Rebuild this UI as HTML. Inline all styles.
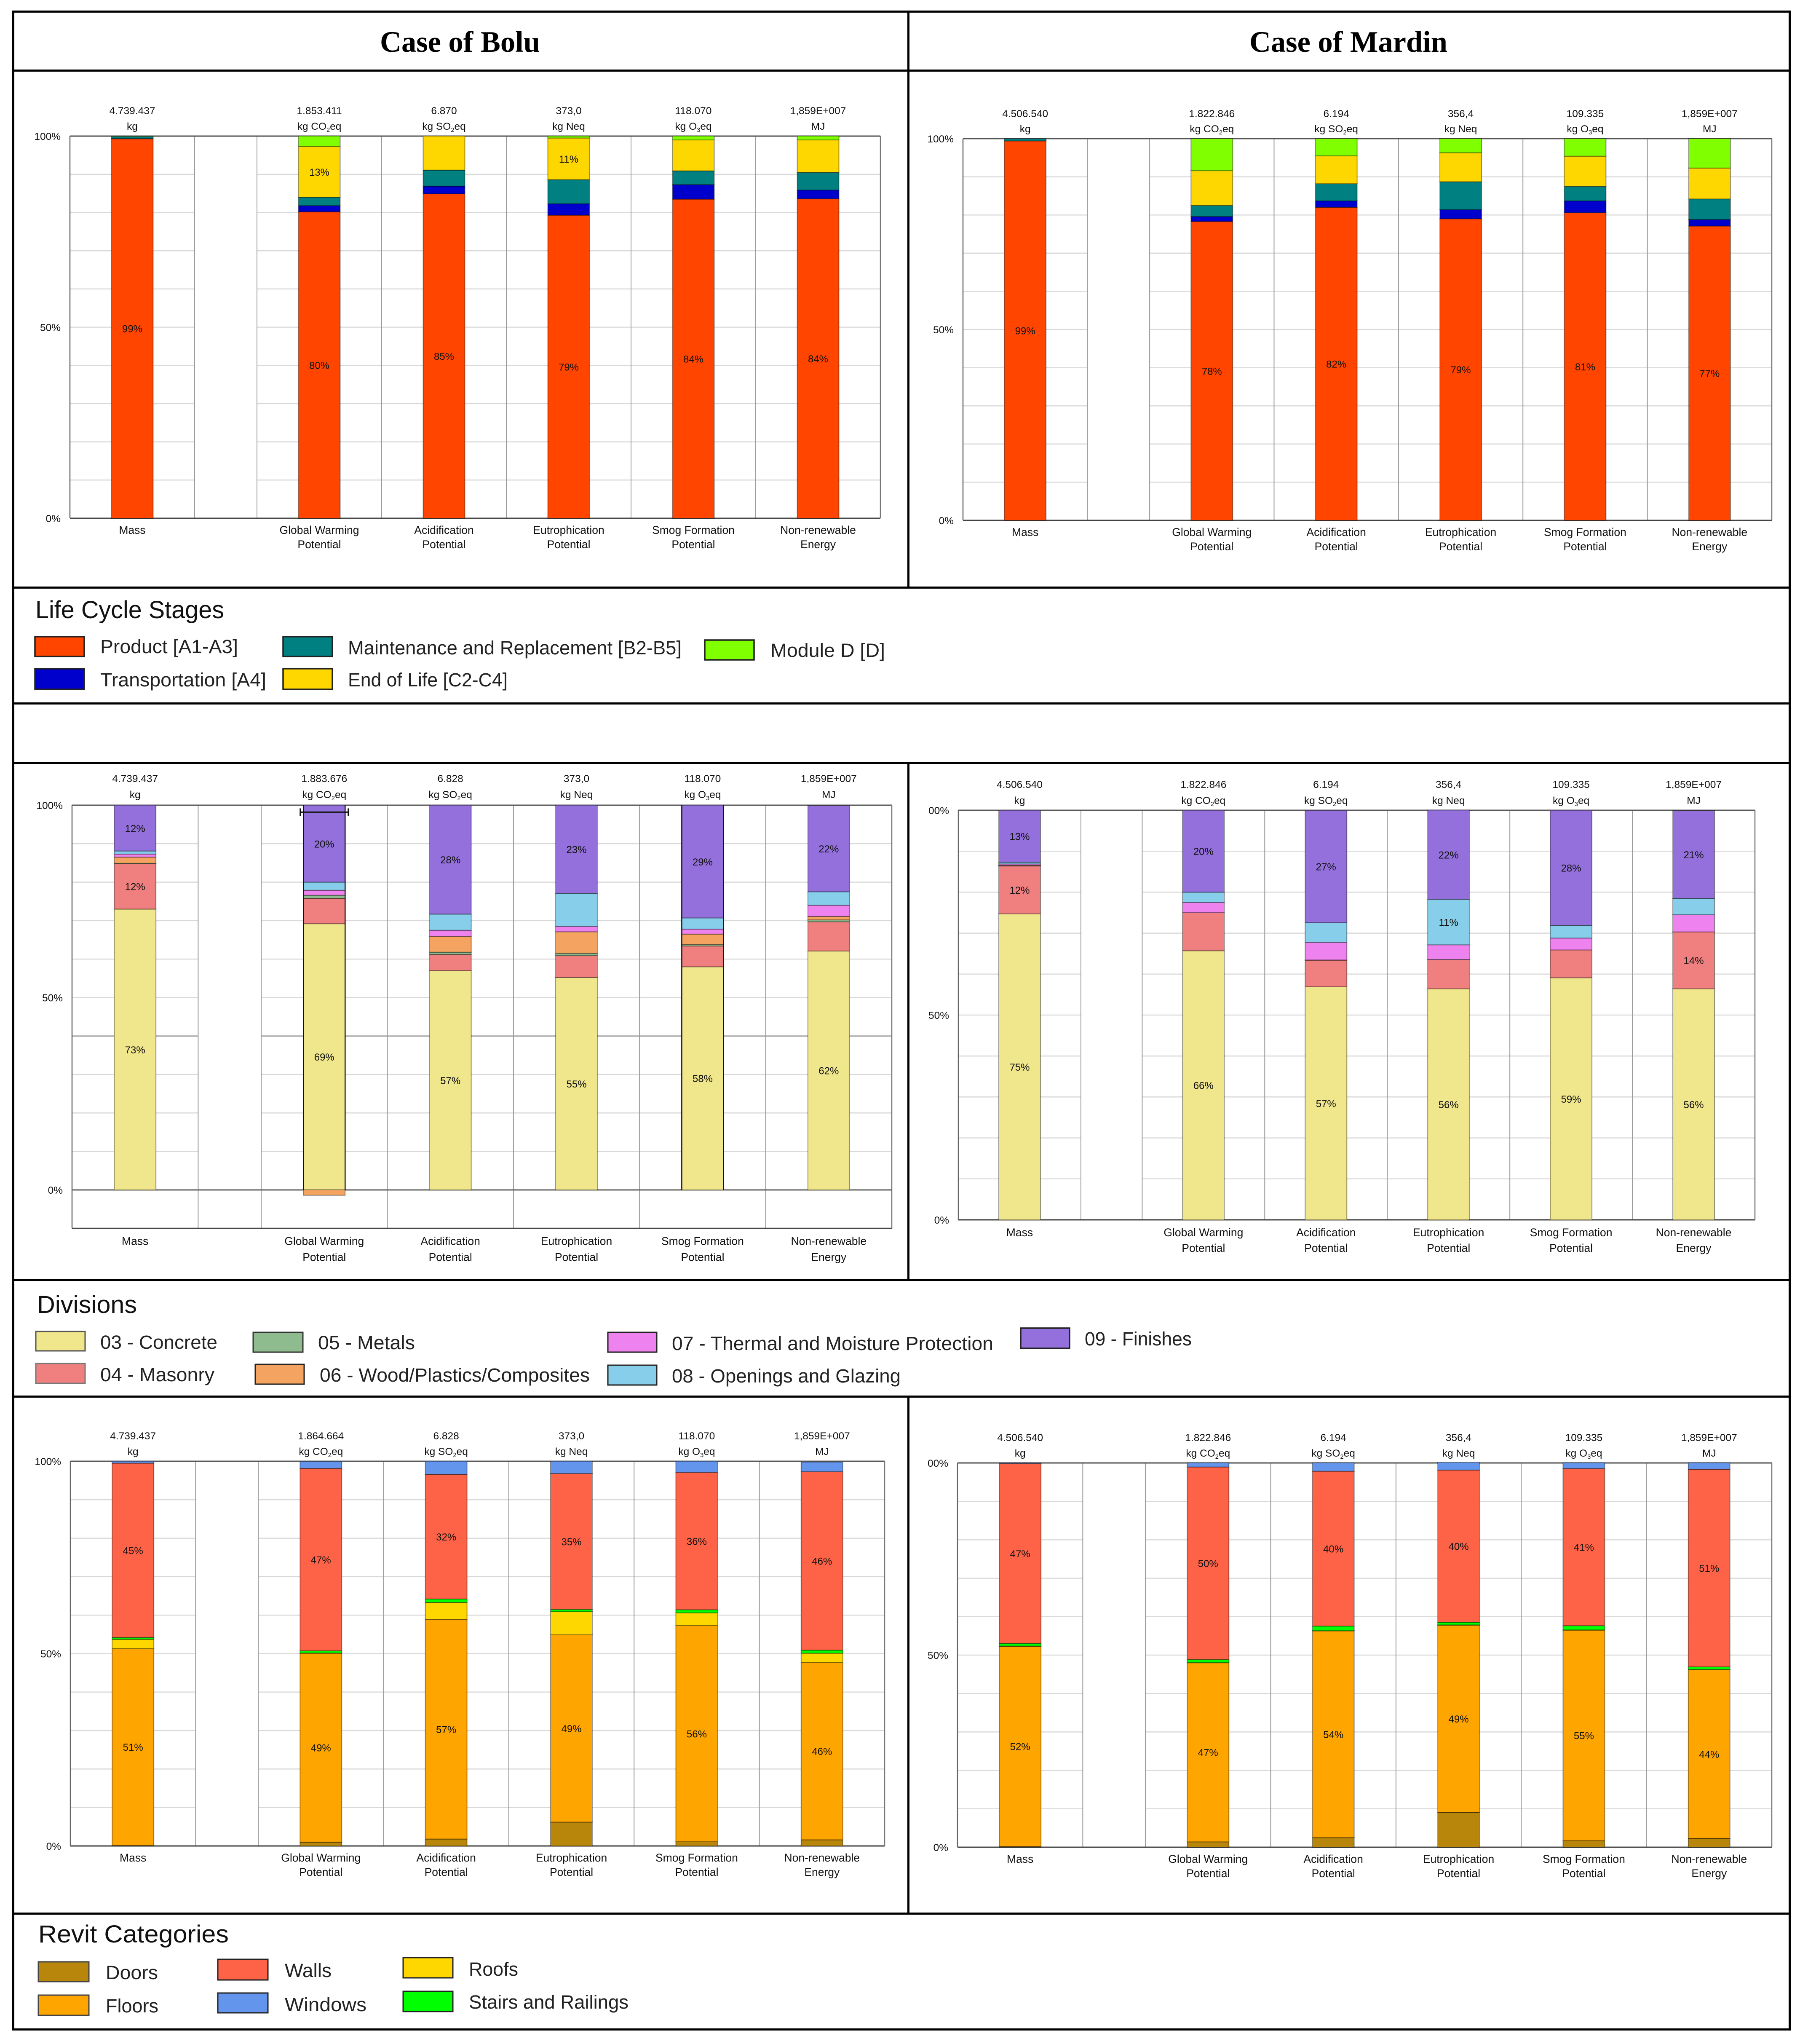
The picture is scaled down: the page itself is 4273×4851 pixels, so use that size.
<!DOCTYPE html>
<html lang="en">
<head>
<meta charset="utf-8">
<title>Life cycle assessment charts: Bolu and Mardin</title>
<style>
html,body{margin:0;padding:0;background:#fff;}
svg{display:block;}
text{font-family:"Liberation Sans",sans-serif;fill:#111;}
.head{font-family:"Liberation Serif",serif;font-weight:bold;font-size:70.5px;fill:#000;text-anchor:middle;}
.ltitle{font-size:58px;fill:#111;}
.ltext{font-size:45.5px;fill:#222;}
</style>
</head>
<body>
<svg xmlns="http://www.w3.org/2000/svg" width="4273" height="4851" viewBox="0 0 4273 4851">
<rect x="0" y="0" width="4273" height="4851" fill="#fff"/>

<g id="chart-bolu-stages"></g>
<g id="chart-mardin-stages"></g>
<g id="chart-bolu-divisions"></g>
<g id="chart-mardin-divisions"></g>
<g id="chart-bolu-categories"></g>
<g id="chart-mardin-categories"></g>

<g fill="#000">
<rect x="29" y="25" width="4222" height="5"/>
<rect x="29" y="165" width="4222" height="5"/>
<rect x="29" y="1392" width="4222" height="5"/>
<rect x="29" y="1667" width="4222" height="5"/>
<rect x="29" y="1808" width="4222" height="5"/>
<rect x="29" y="3035" width="4222" height="5"/>
<rect x="29" y="3312" width="4222" height="5"/>
<rect x="29" y="4539" width="4222" height="5"/>
<rect x="29" y="4814" width="4222" height="5"/>
<rect x="29" y="25" width="5" height="4794"/>
<rect x="4246" y="25" width="5" height="4794"/>
<rect x="2154" y="25" width="5" height="1372"/>
<rect x="2154" y="1808" width="5" height="1232"/>
<rect x="2154" y="3312" width="5" height="1232"/>
</g>

<text class="head" x="1092" y="123">Case of Bolu</text>
<text class="head" x="3201" y="123">Case of Mardin</text>

<g stroke-width="3">
<text class="ltitle" x="84" y="1467" textLength="448" lengthAdjust="spacingAndGlyphs">Life Cycle Stages</text>
<g><rect x="83" y="1511" width="117" height="47" fill="#ff4500" stroke="#222" stroke-width="3.5"/><text class="ltext" x="238" y="1550" textLength="327" lengthAdjust="spacingAndGlyphs">Product [A1-A3]</text></g>
<g><rect x="672" y="1511" width="117" height="47" fill="#008080" stroke="#222" stroke-width="3.5"/><text class="ltext" x="826" y="1553" textLength="792" lengthAdjust="spacingAndGlyphs">Maintenance and Replacement [B2-B5]</text></g>
<g><rect x="1673" y="1519" width="117" height="47" fill="#7fff00" stroke="#222" stroke-width="3.5"/><text class="ltext" x="1829" y="1559" textLength="272" lengthAdjust="spacingAndGlyphs">Module D [D]</text></g>
<g><rect x="83" y="1587" width="117" height="49" fill="#0000cd" stroke="#222" stroke-width="3.5"/><text class="ltext" x="238" y="1629" textLength="394" lengthAdjust="spacingAndGlyphs">Transportation [A4]</text></g>
<g><rect x="672" y="1587" width="117" height="49" fill="#ffd700" stroke="#222" stroke-width="3.5"/><text class="ltext" x="826" y="1629" textLength="379" lengthAdjust="spacingAndGlyphs">End of Life [C2-C4]</text></g>
</g>

<g>
<text class="ltitle" x="88" y="3116" textLength="237" lengthAdjust="spacingAndGlyphs">Divisions</text>
<g><rect x="85" y="3160" width="117" height="46" fill="#f0e68c" stroke="#555" stroke-width="3"/><text class="ltext" x="238" y="3201" textLength="278" lengthAdjust="spacingAndGlyphs">03 - Concrete</text></g>
<g><rect x="601" y="3162" width="118" height="47" fill="#8fbc8f" stroke="#333" stroke-width="3"/><text class="ltext" x="755" y="3202" textLength="230" lengthAdjust="spacingAndGlyphs">05 - Metals</text></g>
<g><rect x="1443" y="3162" width="116" height="47" fill="#ee82ee" stroke="#222" stroke-width="3"/><text class="ltext" x="1595" y="3204" textLength="763" lengthAdjust="spacingAndGlyphs">07 - Thermal and Moisture Protection</text></g>
<g><rect x="85" y="3236" width="117" height="47" fill="#f08080" stroke="#777" stroke-width="3"/><text class="ltext" x="238" y="3278" textLength="271" lengthAdjust="spacingAndGlyphs">04 - Masonry</text></g>
<g><rect x="606" y="3238" width="116" height="47" fill="#f4a460" stroke="#222" stroke-width="3"/><text class="ltext" x="759" y="3279" textLength="641" lengthAdjust="spacingAndGlyphs">06 - Wood/Plastics/Composites</text></g>
<g><rect x="1443" y="3240" width="116" height="47" fill="#87ceeb" stroke="#222" stroke-width="3"/><text class="ltext" x="1595" y="3281" textLength="543" lengthAdjust="spacingAndGlyphs">08 - Openings and Glazing</text></g>
<g><rect x="2423" y="3152" width="116" height="48" fill="#9370db" stroke="#222" stroke-width="3.5"/><text class="ltext" x="2575" y="3193" textLength="254" lengthAdjust="spacingAndGlyphs">09 - Finishes</text></g>
</g>

<g>
<text class="ltitle" x="91" y="4610" textLength="452" lengthAdjust="spacingAndGlyphs">Revit Categories</text>
<g><rect x="91" y="4656" width="120" height="47" fill="#b8860b" stroke="#444" stroke-width="3"/><text class="ltext" x="251" y="4697" textLength="124" lengthAdjust="spacingAndGlyphs">Doors</text></g>
<g><rect x="91" y="4735" width="120" height="48" fill="#ffa500" stroke="#444" stroke-width="3"/><text class="ltext" x="251" y="4776" textLength="125" lengthAdjust="spacingAndGlyphs">Floors</text></g>
<g><rect x="517" y="4650" width="119" height="49" fill="#ff6347" stroke="#222" stroke-width="3"/><text class="ltext" x="676" y="4692" textLength="111" lengthAdjust="spacingAndGlyphs">Walls</text></g>
<g><rect x="517" y="4730" width="119" height="47" fill="#6495ed" stroke="#222" stroke-width="3"/><text class="ltext" x="676" y="4773" textLength="194" lengthAdjust="spacingAndGlyphs">Windows</text></g>
<g><rect x="957" y="4646" width="118" height="48" fill="#ffd700" stroke="#222" stroke-width="3"/><text class="ltext" x="1113" y="4689" textLength="117" lengthAdjust="spacingAndGlyphs">Roofs</text></g>
<g><rect x="957" y="4726" width="118" height="48" fill="#00ff00" stroke="#222" stroke-width="3"/><text class="ltext" x="1113" y="4767" textLength="379" lengthAdjust="spacingAndGlyphs">Stairs and Railings</text></g>
</g>
</svg>

<script>
// Shared labels
const categoryLine1 = ['Mass', 'Global Warming', 'Acidification', 'Eutrophication', 'Smog Formation', 'Non-renewable'];
const categoryLine2 = ['', 'Potential', 'Potential', 'Potential', 'Potential', 'Energy'];
const unitLabels = ['kg', 'kg CO2eq', 'kg SO2eq', 'kg Neq', 'kg O3eq', 'MJ'];
const tickValues = [100, 50, 0];
const tickLabelsFull = ['100%', '50%', '0%'];
const tickLabelsClipped = ['00%', '50%', '0%'];

// Printed totals above the bars
const totalsBoluStages = ['4.739.437', '1.853.411', '6.870', '373,0', '118.070', '1,859E+007'];
const totalsMardinStages = ['4.506.540', '1.822.846', '6.194', '356,4', '109.335', '1,859E+007'];
const totalsBoluDivisions = ['4.739.437', '1.883.676', '6.828', '373,0', '118.070', '1,859E+007'];
const totalsMardinDivisions = ['4.506.540', '1.822.846', '6.194', '356,4', '109.335', '1,859E+007'];
const totalsBoluCategories = ['4.739.437', '1.864.664', '6.828', '373,0', '118.070', '1,859E+007'];
const totalsMardinCategories = ['4.506.540', '1.822.846', '6.194', '356,4', '109.335', '1,859E+007'];

// Bolu - life cycle stages (percent)
const boluStageProduct = [99.3, 80.2, 84.9, 79.3, 83.5, 83.6];
const boluStageTransport = [0.05, 1.6, 2.0, 3.0, 3.8, 2.3];
const boluStageMaintenance = [0.6, 2.2, 4.2, 6.3, 3.6, 4.6];
const boluStageEndOfLife = [0.05, 13.3, 8.9, 10.9, 8.1, 8.5];
const boluStageModuleD = [0, 2.7, 0, 0.5, 1.0, 1.0];

// Mardin - life cycle stages (percent)
const mardinStageProduct = [99.4, 78.3, 82.0, 79.0, 80.6, 77.1];
const mardinStageTransport = [0, 1.3, 1.7, 2.4, 3.1, 1.7];
const mardinStageMaintenance = [0.6, 2.9, 4.5, 7.3, 3.8, 5.4];
const mardinStageEndOfLife = [0, 9.1, 7.3, 7.6, 7.9, 8.1];
const mardinStageModuleD = [0, 8.4, 4.5, 3.7, 4.6, 7.7];

// Bolu - divisions (percent)
const boluDivConcrete = [73.0, 69.2, 57.0, 55.2, 58.0, 62.1];
const boluDivMasonry = [11.8, 6.6, 4.2, 5.7, 5.4, 7.6];
const boluDivMetals = [0.1, 0.8, 0.6, 0.6, 0.4, 0.5];
const boluDivWood = [1.6, -1.4, 4.1, 5.6, 2.7, 0.9];
const boluDivThermal = [0.8, 1.3, 1.6, 1.4, 1.3, 2.9];
const boluDivOpenings = [0.8, 2.1, 4.2, 8.6, 2.9, 3.5];
const boluDivFinishes = [11.9, 20.0, 28.3, 22.9, 29.3, 22.4];

// Mardin - divisions (percent)
const mardinDivConcrete = [74.7, 65.7, 56.9, 56.4, 59.1, 56.4];
const mardinDivMasonry = [11.7, 9.3, 6.5, 7.1, 6.8, 13.9];
const mardinDivMetals = [0.1, 0, 0.05, 0.05, 0, 0];
const mardinDivWood = [0.1, 0, 0, 0, 0, 0];
const mardinDivThermal = [0.3, 2.5, 4.3, 3.6, 2.9, 4.2];
const mardinDivOpenings = [0.4, 2.5, 4.8, 11.1, 3.1, 4.0];
const mardinDivFinishes = [12.7, 20.0, 27.4, 21.8, 28.1, 21.4];

// Bolu - Revit categories (percent)
const boluCatDoors = [0.2, 1.0, 1.8, 6.2, 1.1, 1.6];
const boluCatFloors = [51.1, 49.1, 57.1, 48.7, 56.2, 46.1];
const boluCatRoofs = [2.4, 0.05, 4.4, 6.0, 3.3, 2.4];
const boluCatStairs = [0.5, 0.6, 0.9, 0.6, 0.8, 0.8];
const boluCatWalls = [45.3, 47.4, 32.4, 35.3, 35.7, 46.4];
const boluCatWindows = [0.5, 1.8, 3.4, 3.2, 2.9, 2.5];

// Mardin - Revit categories (percent)
const mardinCatDoors = [0.2, 1.4, 2.5, 9.1, 1.7, 2.3];
const mardinCatFloors = [52.1, 46.6, 53.8, 48.7, 54.8, 43.9];
const mardinCatRoofs = [0.05, 0.05, 0.05, 0.05, 0.05, 0.05];
const mardinCatStairs = [0.7, 0.8, 1.2, 0.7, 1.1, 0.7];
const mardinCatWalls = [46.8, 50.1, 40.3, 39.6, 40.9, 51.4];
const mardinCatWindows = [0.2, 1.1, 2.2, 2.0, 1.5, 1.7];

// Colours
const stageColors = ['#ff4500', '#0000cd', '#008080', '#ffd700', '#7fff00'];
const divisionColors = ['#f0e68c', '#f08080', '#8fbc8f', '#f4a460', '#ee82ee', '#87ceeb', '#9370db'];
const categoryColors = ['#b8860b', '#ffa500', '#ffd700', '#00ff00', '#ff6347', '#6495ed'];

const stageSeriesBolu = [boluStageProduct, boluStageTransport, boluStageMaintenance, boluStageEndOfLife, boluStageModuleD];
const stageSeriesMardin = [mardinStageProduct, mardinStageTransport, mardinStageMaintenance, mardinStageEndOfLife, mardinStageModuleD];
const divisionSeriesBolu = [boluDivConcrete, boluDivMasonry, boluDivMetals, boluDivWood, boluDivThermal, boluDivOpenings, boluDivFinishes];
const divisionSeriesMardin = [mardinDivConcrete, mardinDivMasonry, mardinDivMetals, mardinDivWood, mardinDivThermal, mardinDivOpenings, mardinDivFinishes];
const categorySeriesBolu = [boluCatDoors, boluCatFloors, boluCatRoofs, boluCatStairs, boluCatWalls, boluCatWindows];
const categorySeriesMardin = [mardinCatDoors, mardinCatFloors, mardinCatRoofs, mardinCatStairs, mardinCatWalls, mardinCatWindows];

const NS = 'http://www.w3.org/2000/svg';

function addLine(parent, x1, y1, x2, y2, color, width, name) {
  const el = document.createElementNS(NS, 'line');
  el.setAttribute('x1', x1);
  el.setAttribute('y1', y1);
  el.setAttribute('x2', x2);
  el.setAttribute('y2', y2);
  el.setAttribute('stroke', color);
  el.setAttribute('stroke-width', width);
  
  
  parent.appendChild(el);
  return el;
}

function addText(parent, x, y, str, size, anchor, name) {
  const el = document.createElementNS(NS, 'text');
  el.setAttribute('x', x);
  el.setAttribute('y', y);
  el.setAttribute('font-size', size);
  el.setAttribute('text-anchor', anchor);
  
  
  const parts = str.split(/(?<=[A-Z])([23])(?=eq)/);
  parts.forEach(function (part, i) {
    const t = document.createElementNS(NS, 'tspan');
    t.textContent = part;
    if (i === 1) {
      t.setAttribute('font-size', size * 0.6);
      t.setAttribute('dy', 5);
    } else if (i === 2) {
      t.setAttribute('dy', -5);
    }
    el.appendChild(t);
  });
  parent.appendChild(el);
  return el;
}

function drawChart(cfg) {
  const g = document.getElementById(cfg.id);
  const unit = (cfg.right - cfg.left) / 6.5;
  const yScale = function (v) { return cfg.zero - (v / 100) * (cfg.zero - cfg.top); };
  const bandEdge = function (u) { return cfg.left + u * unit; };
  const xCenter = function (i) { return bandEdge(i === 0 ? 0.5 : i + 1); };
  const bottom = yScale(cfg.min);
  const barWidth = 99;

  // horizontal gridlines: broken across the empty gap after the Mass band
  for (let v = cfg.min; v <= 100; v += 10) {
    const strong = cfg.strongGrid === v;
    addLine(g, cfg.left, yScale(v), bandEdge(1), yScale(v), strong ? '#8a8a8a' : '#d9d9d9', 2.5, 'horizontal-gridline');
    addLine(g, bandEdge(1.5), yScale(v), cfg.right, yScale(v), strong ? '#8a8a8a' : '#d9d9d9', 2.5, 'horizontal-gridline');
  }
  // vertical gridlines at the band edges
  [1, 1.5, 2.5, 3.5, 4.5, 5.5].forEach(function (u) {
    addLine(g, bandEdge(u), cfg.top, bandEdge(u), bottom, '#9c9c9c', 2, 'vertical-gridline');
  });
  // plot frame
  addLine(g, cfg.left, cfg.top, cfg.right, cfg.top, '#555', 3, 'plot-top-border');
  addLine(g, cfg.left, bottom, cfg.right, bottom, '#444', 3, 'plot-bottom-border');
  addLine(g, cfg.left, cfg.top, cfg.left, bottom, '#666', 2.5, 'plot-left-border');
  addLine(g, cfg.right, cfg.top, cfg.right, bottom, '#777', 2.5, 'plot-right-border');
  if (cfg.min < 0) {
    addLine(g, cfg.left, yScale(0), cfg.right, yScale(0), '#666', 3, 'zero-line');
  }

  // y-axis ticks
  tickValues.forEach(function (v, i) {
    addText(g, cfg.left - 22, yScale(v) + 9, cfg.ticks[i], 24.5, 'end', 'y-axis-tick-label');
  });

  // stacked bars
  categoryLine1.forEach(function (cat, c) {
    const cx = xCenter(c);
    let pos = 0;
    let neg = 0;
    const labels = [];
    cfg.series.forEach(function (values, s) {
      const v = values[c];
      if (v === 0) return;
      const start = v > 0 ? pos : neg;
      const end = start + v;
      if (v > 0) { pos = end; } else { neg = end; }
      const y1 = yScale(Math.max(start, end));
      const y2 = yScale(Math.min(start, end));
      const rect = document.createElementNS(NS, 'rect');
      rect.setAttribute('x', cx - barWidth / 2);
      rect.setAttribute('y', y1);
      rect.setAttribute('width', barWidth);
      rect.setAttribute('height', y2 - y1);
      rect.setAttribute('fill', cfg.colors[s]);
      rect.setAttribute('stroke', '#000');
      rect.setAttribute('stroke-opacity', '0.4');
      rect.setAttribute('stroke-width', '2');
      
      
      g.appendChild(rect);
      if (Math.abs(v) >= 10) {
        labels.push({ y: (y1 + y2) / 2 + 9, text: Math.round(Math.abs(v)) + '%' });
      }
    });
    labels.forEach(function (l) {
      addText(g, cx, l.y, l.text, 24, 'middle', 'bar-percent-label');
    });
    (cfg.outlined || []).forEach(function (o) {
      if (o === c) {
        addLine(g, cx - barWidth / 2, yScale(pos), cx - barWidth / 2, yScale(0), '#111', 2.5, 'bar-outline');
        addLine(g, cx + barWidth / 2, yScale(pos), cx + barWidth / 2, yScale(0), '#111', 2.5, 'bar-outline');
      }
    });

    // totals and units above
    addText(g, cx, cfg.top + cfg.valueBase[0], cfg.totals[c], 24.5, 'middle', 'category-total');
    addText(g, cx, cfg.top + cfg.valueBase[1], unitLabels[c], 24.5, 'middle', 'category-unit');
    // category labels below
    addText(g, cx, bottom + cfg.labelBase[0], cat, 26.5, 'middle', 'x-axis-category-label');
    if (categoryLine2[c]) {
      addText(g, cx, bottom + cfg.labelBase[1], categoryLine2[c], 26.5, 'middle', 'x-axis-category-label');
    }
  });

  // selection whisker
  if (cfg.whisker) {
    const cx = xCenter(cfg.whisker.cat);
    const wy = yScale(cfg.whisker.value);
    addLine(g, cx - 57, wy, cx + 57, wy, '#111', 3, 'selection-whisker');
    addLine(g, cx - 57, wy - 9, cx - 57, wy + 9, '#111', 3, 'selection-whisker-cap');
    addLine(g, cx + 57, wy - 9, cx + 57, wy + 9, '#111', 3, 'selection-whisker-cap');
  }
}

drawChart({ id: 'chart-bolu-stages', left: 166, right: 2090, top: 323, zero: 1230, min: 0, series: stageSeriesBolu, colors: stageColors, totals: totalsBoluStages, ticks: tickLabelsFull, valueBase: [-52, -15], labelBase: [37, 71] });
drawChart({ id: 'chart-mardin-stages', left: 2286, right: 4206, top: 329, zero: 1235, min: 0, series: stageSeriesMardin, colors: stageColors, totals: totalsMardinStages, ticks: tickLabelsFull, valueBase: [-51, -15], labelBase: [37, 71] });
drawChart({ id: 'chart-bolu-divisions', left: 171, right: 2117, top: 1911, zero: 2824, min: -10, strongGrid: 40, outlined: [1, 4], whisker: { cat: 1, value: 98.2 }, series: divisionSeriesBolu, colors: divisionColors, totals: totalsBoluDivisions, ticks: tickLabelsFull, valueBase: [-55, -17], labelBase: [39, 77] });
drawChart({ id: 'chart-mardin-divisions', left: 2275, right: 4166, top: 1923, zero: 2895, min: 0, series: divisionSeriesMardin, colors: divisionColors, totals: totalsMardinDivisions, ticks: tickLabelsClipped, valueBase: [-53, -15], labelBase: [39, 76] });
drawChart({ id: 'chart-bolu-categories', left: 167, right: 2100, top: 3468, zero: 4381, min: 0, series: categorySeriesBolu, colors: categoryColors, totals: totalsBoluCategories, ticks: tickLabelsFull, valueBase: [-52, -15], labelBase: [37, 71] });
drawChart({ id: 'chart-mardin-categories', left: 2273, right: 4206, top: 3472, zero: 4384, min: 0, series: categorySeriesMardin, colors: categoryColors, totals: totalsMardinCategories, ticks: tickLabelsClipped, valueBase: [-52, -15], labelBase: [37, 71] });
</script>
</body>
</html>
